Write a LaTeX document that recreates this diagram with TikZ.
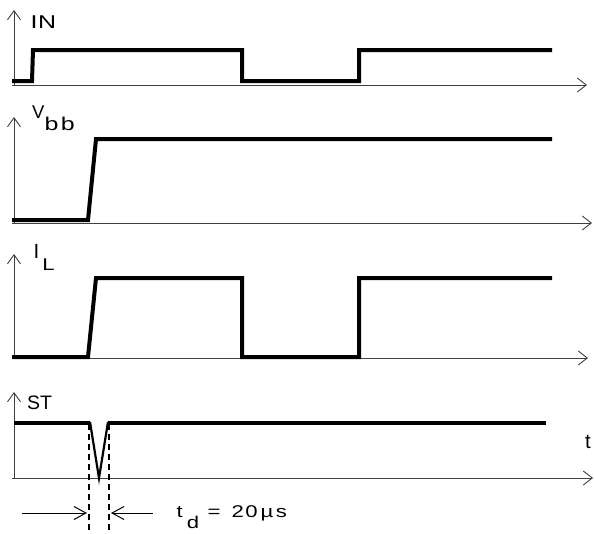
\documentclass[tikz,border=0pt]{standalone}
\usepackage{fontspec}
\setmainfont{Liberation Sans}
\newfontfamily\wfont[FakeStretch=1.3]{Liberation Sans}
\newfontfamily\wwfont[FakeStretch=1.35]{Liberation Sans}
\usetikzlibrary{arrows.meta}
\begin{document}
\begin{tikzpicture}[x=1pt,y=-1pt,
  axisline/.style={draw=black!75,line width=0.9pt},
  axisarrow/.style={axisline,-{Straight Barb[length=9pt,width=14pt,line width=0.9pt]}},
  vaxisarrow/.style={axisline,-{Straight Barb[length=9pt,width=13pt,line width=0.9pt]}},
  signal/.style={draw=black,line width=4pt,line join=miter,line cap=butt},
  thinsig/.style={draw=black,line width=2.2pt},
  dashline/.style={draw=black,line width=1.3pt,dash pattern=on 6pt off 4pt},
  dimarrow/.style={draw=black,line width=1pt,-{Straight Barb[length=12pt,width=13pt,line width=1pt]}},
  lbl/.style={inner sep=0pt,anchor=base west,font=\fontsize{19.5}{19.5}\selectfont}]
\useasboundingbox (0,0) rectangle (594,533);
% ---- IN ----
\coordinate (o1) at (14,85);
\coordinate (y1) at (14,10);
\coordinate (x0a) at (12,85);
\coordinate (x1) at (587,85);
\draw[vaxisarrow] (o1) -- (y1);
\draw[axisarrow] (x0a) -- (x1);
\draw[signal] (12,81) -- (32,81) -- (33,50) -- (242,50) -- (242,81) -- (359,81) -- (359,50) -- (552,50);
\node[lbl] (lin) at (30.5,28) {\wwfont\fontsize{18.5}{18.5}\selectfont I\kern0.5pt N};
% ---- Vbb ----
\coordinate (o2) at (14,223);
\coordinate (y2) at (14,117);
\coordinate (x0b) at (12,223);
\coordinate (x2) at (592,223);
\draw[vaxisarrow] (o2) -- (y2);
\draw[axisarrow] (x0b) -- (x2);
\draw[signal] (12,220) -- (88,220) -- (96,139) -- (552,139);
\node[lbl] (lvbb) at (32,118) {\fontsize{18.5}{18.5}\selectfont V\raisebox{-12pt}{\wwfont b\kern2.5pt b}};
% ---- IL ----
\coordinate (o3) at (14,358);
\coordinate (y3) at (14,254);
\coordinate (x0c) at (12,358);
\coordinate (x3) at (588,358);
\draw[vaxisarrow] (o3) -- (y3);
\draw[axisarrow] (x0c) -- (x3);
\draw[signal] (12,357) -- (88,357) -- (96,278) -- (242,278) -- (242,357) -- (359,357) -- (359,278) -- (552,278);
\node[lbl] (lil) at (33.5,258) {\fontsize{20.5}{20.5}\selectfont I\kern3pt\raisebox{-12pt}{\wfont\fontsize{17}{17}\selectfont L}};
% ---- ST ----
\coordinate (o4) at (14,478);
\coordinate (y4) at (14,392);
\coordinate (x0d) at (12,478);
\coordinate (x4) at (593,478);
\draw[vaxisarrow] (o4) -- (y4);
\draw[axisarrow] (x0d) -- (x4);
\draw[signal] (14,423) -- (90,423);
\draw[signal] (108,423) -- (546,423);
\draw[thinsig,line join=miter] (90,422) -- (99,478) -- (108,422);
\node[lbl] (lst) at (27,409) {ST};
\node[lbl] (lt) at (585,448) {\fontsize{20.5}{20.5}\selectfont t};
% ---- td ----
\coordinate (d1top) at (89,424);
\coordinate (d1bot) at (89,533);
\coordinate (d2top) at (109,424);
\coordinate (d2bot) at (109,533);
\draw[dashline] (d1top) -- (d1bot);
\draw[dashline] (d2top) -- (d2bot);
\coordinate (a1s) at (22,513);
\coordinate (a1e) at (87,513);
\coordinate (a2s) at (153,513);
\coordinate (a2e) at (111,513);
\draw[dimarrow] (a1s) -- (a1e);
\draw[dimarrow] (a2s) -- (a2e);
\node[lbl] (ltd) at (176.5,517) {\wfont\fontsize{17}{17}\selectfont t\kern4pt\raisebox{-11pt}{d}\kern8.5pt=\kern11pt 2\kern1.5pt 0\kern3pt µ\kern2.5pt s};
\end{tikzpicture}
\end{document}
